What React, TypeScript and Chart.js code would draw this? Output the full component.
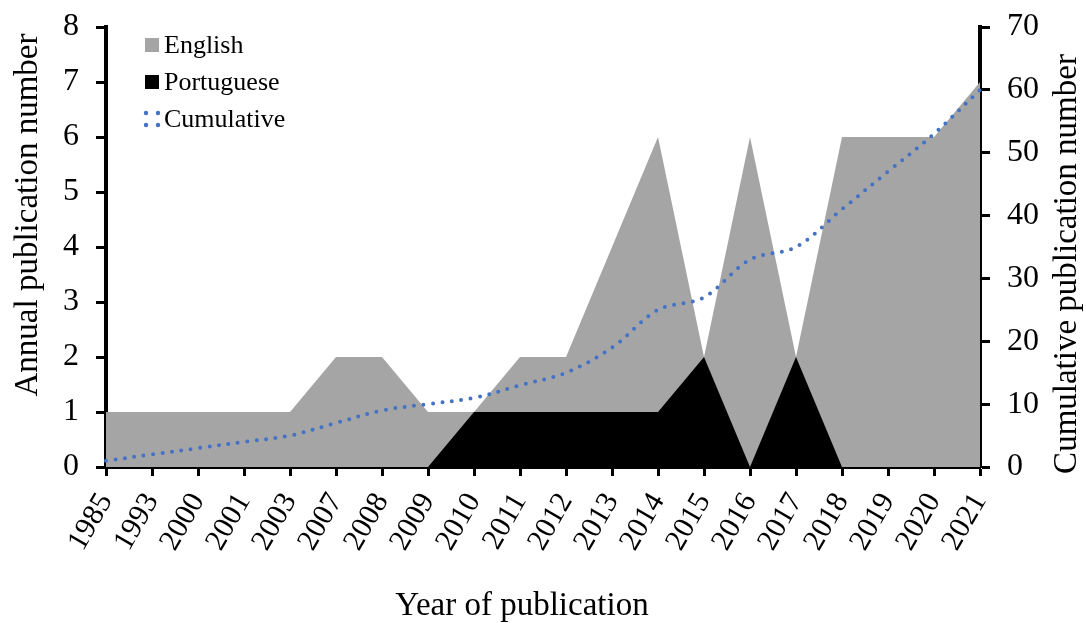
import React, { useEffect, useRef } from "react";
import { Chart, registerables } from "chart.js";

Chart.register(...registerables);

const years = ["1985", "1993", "2000", "2001", "2003", "2007", "2008", "2009", "2010", "2011", "2012", "2013", "2014", "2015", "2016", "2017", "2018", "2019", "2020", "2021"];
const english = [1, 1, 1, 1, 1, 2, 2, 1, 1, 2, 2, 4, 6, 2, 6, 2, 6, 6, 6, 7];
const portuguese = [0, 0, 0, 0, 0, 0, 0, 0, 1, 1, 1, 1, 1, 2, 0, 2, 0, 0, 0, 0];
const cumulative = [1, 2, 3, 4, 5, 7, 9, 10, 11, 13, 15, 19, 25, 27, 33, 35, 41, 47, 53, 60];
const legendLabels = ["English", "Portuguese", "Cumulative"];
const xTitle = "Year of publication";
const yTitle = "Annual publication number";
const y2Title = "Cumulative publication number";

const GRAY = "#A5A5A5";
const BLUE = "#4472C4";
const FONT = "'Liberation Serif', 'Times New Roman', serif";

const overlayPlugin = {
  id: "overlay",
  afterDraw(chart: any) {
    const ctx = chart.ctx;
    const x0 = 145;
    const rows = [45, 82, 119];
    ctx.save();
    ctx.font = `26px ${FONT}`;
    ctx.textBaseline = "middle";
    ctx.fillStyle = GRAY;
    ctx.fillRect(x0, rows[0] - 7, 14, 14);
    ctx.fillStyle = "#000";
    ctx.fillRect(x0, rows[1] - 7, 14, 14);
    ctx.fillStyle = BLUE;
    const dots = [[146, rows[2] - 6], [158, rows[2] - 6], [146, rows[2] + 6], [158, rows[2] + 6]];
    dots.forEach(([dx, dy]) => {
      ctx.beginPath();
      ctx.arc(dx, dy, 2.2, 0, Math.PI * 2);
      ctx.fill();
    });
    ctx.fillStyle = "#000";
    legendLabels.forEach((t, i) => ctx.fillText(t, 164, rows[i] + 1));

    ctx.font = `33px ${FONT}`;
    ctx.textAlign = "center";
    ctx.textBaseline = "middle";
    ctx.fillText(xTitle, 522, 606);
    ctx.save();
    ctx.translate(28, 215);
    ctx.rotate(-Math.PI / 2);
    ctx.fillText(yTitle, 0, 0);
    ctx.restore();
    ctx.save();
    ctx.translate(1067, 264);
    ctx.rotate(-Math.PI / 2);
    ctx.fillText(y2Title, 0, 0);
    ctx.restore();
    ctx.restore();
  },
};

export default function App() {
  const ref = useRef<HTMLCanvasElement>(null);
  useEffect(() => {
    if (!ref.current) return;
    const yTickFont = { family: FONT, size: 32 };
    const xTickFont = { family: FONT, size: 30 };
    const chart = new Chart(ref.current, {
      type: "line",
      data: {
        labels: years,
        datasets: [
          {
            label: legendLabels[2],
            data: cumulative,
            yAxisID: "y2",
            borderColor: BLUE,
            borderWidth: 4,
            borderDash: [0, 9.5],
            borderCapStyle: "round",
            pointRadius: 0,
            tension: 0.35,
            fill: false,
            order: 0,
          },
          {
            label: legendLabels[1],
            data: portuguese,
            yAxisID: "y",
            backgroundColor: "#000",
            borderWidth: 0,
            pointRadius: 0,
            tension: 0,
            fill: "origin",
            order: 1,
          },
          {
            label: legendLabels[0],
            data: english,
            yAxisID: "y",
            backgroundColor: GRAY,
            borderWidth: 0,
            pointRadius: 0,
            tension: 0,
            fill: "origin",
            order: 2,
          },
        ] as any,
      },
      options: {
        animation: false,
        responsive: true,
        maintainAspectRatio: false,
        layout: { padding: { top: 27, left: 0, right: 0, bottom: 0 } },
        plugins: { legend: { display: false }, tooltip: { enabled: false } },
        scales: {
          x: {
            offset: false,
            grid: { drawOnChartArea: false, offset: false, tickLength: 9, tickWidth: 3, tickColor: "#000" },
            border: { color: "#000", width: 4 },
            ticks: { color: "#000", font: xTickFont, minRotation: 60, maxRotation: 60, autoSkip: false, padding: 11 },
            afterFit(scale: any) { scale.height = 156; scale.paddingLeft = 0; scale.paddingRight = 0; },
          },
          y: {
            position: "left",
            min: 0,
            max: 8,
            grid: { drawOnChartArea: false, tickLength: 10, tickWidth: 3, tickColor: "#000" },
            border: { color: "#000", width: 4 },
            ticks: { color: "#000", font: yTickFont, stepSize: 1, padding: 17 },
            afterFit(scale: any) { scale.width = 106; scale.paddingTop = 0; scale.paddingBottom = 0; },
          },
          y2: {
            position: "right",
            min: 0,
            max: 70,
            grid: { drawOnChartArea: false, tickLength: 10, tickWidth: 3, tickColor: "#000" },
            border: { color: "#000", width: 4 },
            ticks: { color: "#000", font: yTickFont, stepSize: 10, padding: 17 },
            afterFit(scale: any) { scale.width = 106; scale.paddingTop = 0; scale.paddingBottom = 0; },
          },
        },
      } as any,
      plugins: [overlayPlugin],
    });
    return () => chart.destroy();
  }, []);
  return (
    <div style={{ position: "fixed", left: 0, top: 0, width: 1086, height: 623, background: "#fff" }}>
      <canvas ref={ref} />
    </div>
  );
}
